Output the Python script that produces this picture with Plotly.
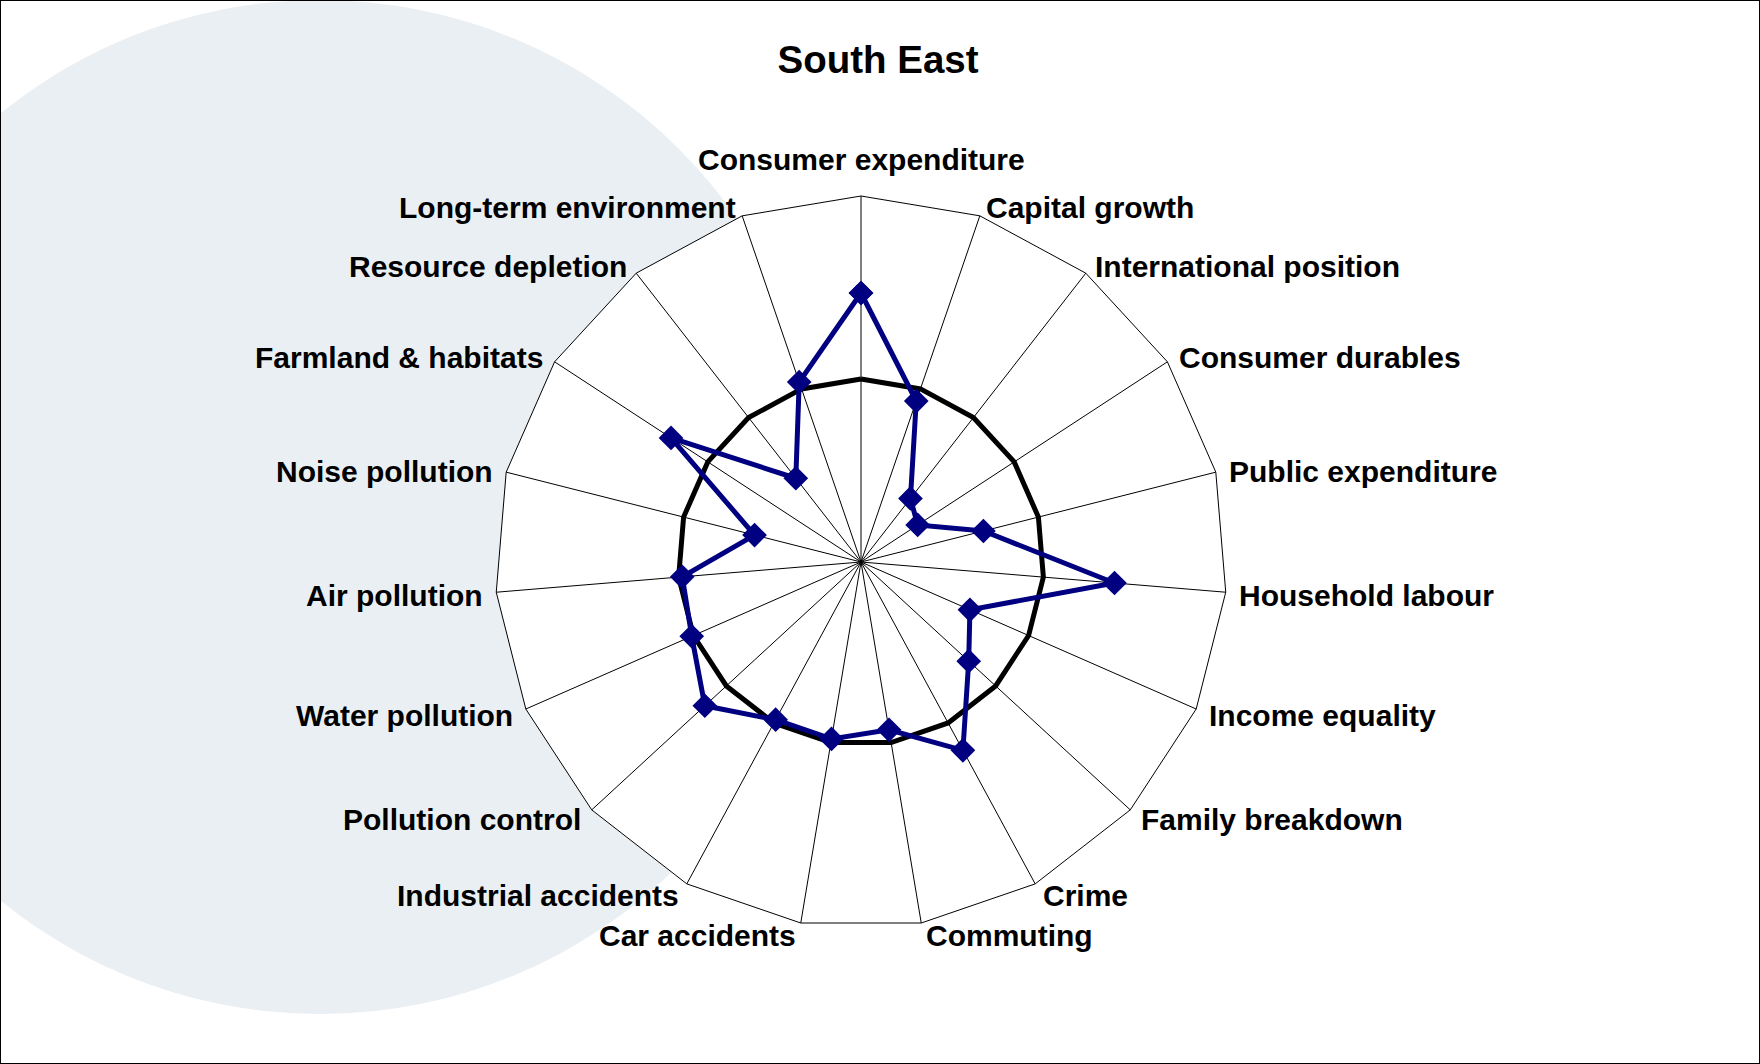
import math
import plotly.graph_objects as go

categories = [
    "Consumer expenditure", "Capital growth", "International position",
    "Consumer durables", "Public expenditure", "Household labour",
    "Income equality", "Family breakdown", "Crime", "Commuting",
    "Car accidents", "Industrial accidents", "Pollution control",
    "Water pollution", "Air pollution", "Noise pollution",
    "Farmland & habitats", "Resource depletion", "Long-term environment",
]
south_east = [1.47, 0.93, 0.44, 0.37, 0.69, 1.39, 0.65, 0.80, 1.17, 0.93,
              0.98, 0.98, 1.16, 1.01, 0.98, 0.60, 1.24, 0.58, 1.04]
baseline = [1.0] * len(categories)
title_text = "South East"

W, H = 1760, 1064
FONT = "Liberation Sans, Arial, sans-serif"
LABEL_SIZE = 30

fig = go.Figure()
fig.add_trace(go.Scatterpolar(
    r=baseline + baseline[:1], theta=categories + categories[:1],
    mode="lines", line=dict(color="black", width=5),
    hoverinfo="skip", showlegend=False,
))
fig.add_trace(go.Scatterpolar(
    r=south_east + south_east[:1], theta=categories + categories[:1],
    mode="lines+markers", line=dict(color="#000080", width=5),
    marker=dict(symbol="diamond", size=19, color="#000080"),
    showlegend=False, name=title_text,
))

# decorative background disc
cx, cy, R = 320, 507, 507
fig.add_shape(type="circle", xref="paper", yref="paper",
              x0=(cx - R) / W, x1=(cx + R) / W,
              y0=1 - (cy + R) / H, y1=1 - (cy - R) / H,
              fillcolor="#EAEFF4", line=dict(width=0), layer="below")
# frame
fig.add_shape(type="rect", xref="paper", yref="paper", x0=0, x1=1, y0=0, y1=1,
              line=dict(color="black", width=2), fillcolor="rgba(0,0,0,0)")

# polar placement (pixels)
pcx, pcy, pr = 861, 562, 366

# category labels placed outside each vertex, Excel-style
n = len(categories)
for i, name in enumerate(categories):
    th = math.radians(i * 360.0 / n)
    s, c = math.sin(th), math.cos(th)
    vx, vy = pcx + pr * s, pcy - pr * c
    if abs(s) < 0.05:
        px, py, xa = vx, vy - 37 * c, "center"
    else:
        px = vx + 11 * s + (0.5 if s > 0 else -0.5)
        py = vy - 11 * c + 2
        xa = "left" if s > 0 else "right"
    fig.add_annotation(
        text=name, xref="paper", yref="paper", x=px / W, y=1 - py / H,
        xanchor=xa, yanchor="middle", showarrow=False,
        font=dict(family=FONT, size=LABEL_SIZE, color="black", weight="bold"),
    )

fig.update_layout(
    width=W, height=H,
    margin=dict(l=0, r=0, t=0, b=0),
    paper_bgcolor="white",
    title=dict(text=title_text, x=878 / W, xanchor="center", y=1 - 60 / H, yanchor="middle",
               font=dict(family=FONT, size=38.5, color="black", weight="bold")),
    polar=dict(
        domain=dict(x=[(pcx - pr) / W, (pcx + pr) / W],
                    y=[1 - (pcy + pr) / H, 1 - (pcy - pr) / H]),
        bgcolor="white",
        gridshape="linear",
        radialaxis=dict(visible=False, range=[0, 2]),
        angularaxis=dict(
            direction="clockwise", rotation=90,
            showline=True, linecolor="black", linewidth=1,
            showgrid=True, gridcolor="black", gridwidth=1,
            ticks="", showticklabels=False,
        ),
    ),
)

fig.write_html("out.html", config={"displayModeBar": False},
               post_script="document.body.style.margin='0';")
